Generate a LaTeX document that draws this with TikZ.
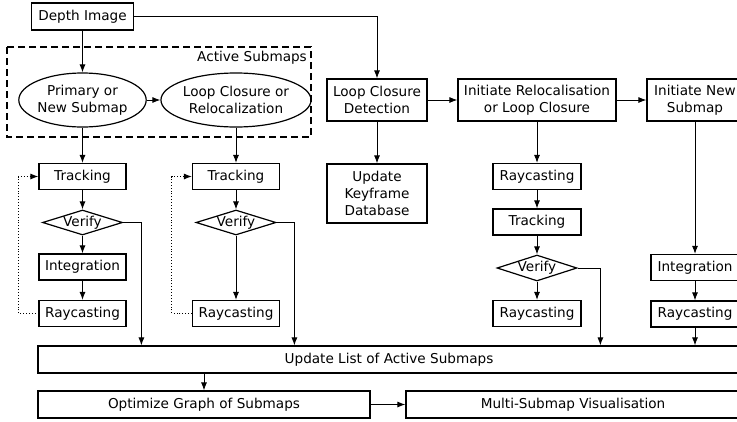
\documentclass[tikz,border=0pt]{standalone}
\usepackage{fontspec}
\setmainfont{DejaVu Sans}
\usetikzlibrary{shapes.geometric,arrows.meta,calc}
\begin{document}
\begin{tikzpicture}[x=1pt,y=-1pt,
  every node/.style={font=\fontsize{13.6pt}{17pt}\selectfont, inner sep=0pt, align=center},
  box/.style={draw, line width=1.2pt, minimum width=#1, minimum height=26pt},
  box/.default=87pt,
  ell/.style={draw, ellipse, line width=1.2pt, minimum width=122pt, minimum height=54pt},
  vdia/.style={draw, diamond, line width=1.2pt, minimum width=80pt, minimum height=25pt},
  arr/.style={-{Latex[length=8pt,width=6pt]}, line width=0.9pt},
  dotarr/.style={-{Latex[length=8pt,width=6pt]}, line width=0.9pt, dotted},
]
\useasboundingbox (0,0) rectangle (737,421);
\clip (0,0) rectangle (737,421);
\newcommand{\vtext}{\makebox[0pt]{\raisebox{-0.5ex}[0pt][0pt]{Verify}}}

% dashed group
\draw[line width=1.3pt, dash pattern=on 7pt off 4pt] (7,47) rectangle (311,137);
\node[anchor=east] (actlab) at (307,58) {Active Submaps};

\node[box=102pt, minimum height=27pt] (depth) at (82.5,16.5) {Depth Image};
\node[ell] (e1) at (82.5,100) {Primary or\\New Submap};
\node[ell, minimum width=123pt] (e2) at (236,100) {Loop Closure or\\Relocalization};

\node[box] (trk1) at (82.5,176.5) {Tracking};
\node[vdia] (ver1) at (82.5,222.5) {\vtext};
\node[box] (int1) at (82.5,267) {Integration};
\node[box] (ray1) at (82.5,313.5) {Raycasting};

\node[box] (trk2) at (236,176.5) {Tracking};
\node[vdia] (ver2) at (236,222.5) {\vtext};
\node[box] (ray2) at (236,313.5) {Raycasting};

\node[box=100pt, minimum height=42pt] (lcd) at (377,100) {Loop Closure\\Detection};
\node[box=100pt, minimum height=59pt] (ukd) at (377,193.5) {Update\\Keyframe\\Database};

\node[box=158pt, minimum height=42pt] (ir) at (537,100) {Initiate Relocalisation\\or Loop Closure};
\node[box=88pt] (ray3) at (537,176.5) {Raycasting};
\node[box=88pt] (trk3) at (537,222) {Tracking};
\node[vdia, minimum height=26pt] (ver3) at (537,268) {\vtext};
\node[box=88pt] (ray4) at (537,313.5) {Raycasting};

\node[box=96pt, minimum height=42pt] (ins) at (695,100) {Initiate New\\Submap};
\node[box=88pt] (int5) at (695,267.5) {Integration};
\node[box=88pt] (ray5) at (695,314) {Raycasting};

\node[box=702pt, minimum height=27pt] (upd) at (389,359.5) {Update List of Active Submaps};
\node[box=332pt, minimum height=27pt] (opt) at (204,404.5) {Optimize Graph of Submaps};
\node[box=334pt, minimum height=27pt] (msv) at (573,404.5) {Multi-Submap Visualisation};

% connectors
\draw[arr] (depth.south) -- (e1.north);
\draw[arr] (depth.east) -| (lcd.north);
\draw[arr] (e1.east) -- (e2.west);

\draw[arr] (e1.south) -- (trk1.north);
\draw[arr] (trk1.south) -- (ver1.north);
\draw[arr] (ver1.south) -- (int1.north);
\draw[arr] (int1.south) -- (ray1.north);
\draw[dotarr] (ray1.west) -- ++(-20,0) |- (trk1.west);
\draw[arr] (ver1.east) -| ([xshift=104pt]upd.north west);

\draw[arr] (e2.south) -- (trk2.north);
\draw[arr] (trk2.south) -- (ver2.north);
\draw[arr] (ver2.south) -- (ray2.north);
\draw[dotarr] (ray2.west) -- ++(-20,0) |- (trk2.west);
\draw[arr] (ver2.east) -| ([xshift=257pt]upd.north west);

\draw[arr] (lcd.south) -- (ukd.north);
\draw[arr] (lcd.east) -- (ir.west);
\draw[arr] (ir.east) -- (ins.west);

\draw[arr] (ir.south) -- (ray3.north);
\draw[arr] (ray3.south) -- (trk3.north);
\draw[arr] (trk3.south) -- (ver3.north);
\draw[arr] (ver3.south) -- (ray4.north);
\draw[arr] (ver3.east) -| ([xshift=563pt]upd.north west);

\draw[arr] (ins.south) -- (int5.north);
\draw[arr] (int5.south) -- (ray5.north);
\draw[arr] (ray5.south) -- (ray5.south |- upd.north);

\draw[arr] (opt.north |- upd.south) -- (opt.north);
\draw[arr] (opt.east) -- (msv.west);
\end{tikzpicture}
\end{document}
